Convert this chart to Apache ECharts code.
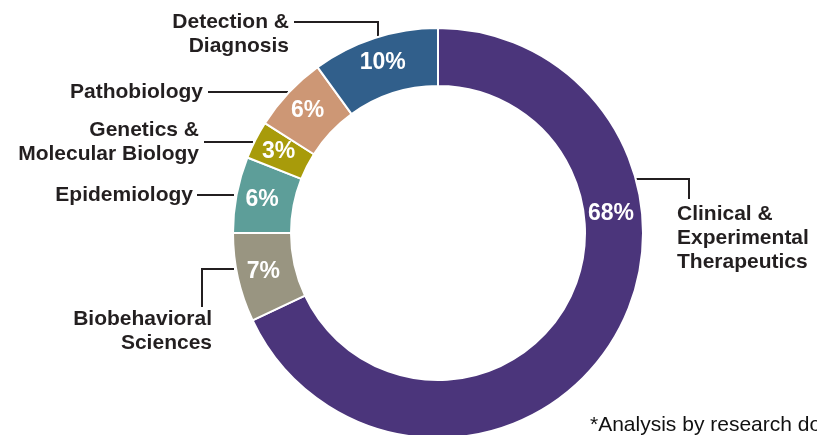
<!DOCTYPE html>
<html>
<head>
<meta charset="utf-8">
<script src="https://cdn.jsdelivr.net/npm/echarts@6/dist/echarts.min.js"></script>
<style>
html,body{margin:0;padding:0;background:#fff;}
#chart{width:817px;height:435px;}
</style>
</head>
<body>
<div id="chart"></div>
<script>
// ---- data ----
const categories = ["Clinical &\nExperimental\nTherapeutics", "Biobehavioral\nSciences", "Epidemiology", "Genetics &\nMolecular Biology", "Pathobiology", "Detection &\nDiagnosis"];
const values = [68, 7, 6, 3, 6, 10];
const footnote = "*Analysis by research dollars";

// ---- styles ----
const colors = ["#4B357B", "#999581", "#5D9E99", "#A89B0A", "#CD9775", "#315F8B"];
const CX = 438, CY = 233;
// outside label placement: text anchor + leader line path
const outsideLayout = [
  {x: 677, y: 238, align: "left", line: [[636, 179], [689, 179], [689, 199]]},
  {x: 212, y: 331, align: "right", line: [[234, 269], [202, 269], [202, 307]]},
  {x: 193, y: 195, align: "right", line: [[234, 195], [197, 195]]},
  {x: 199, y: 142, align: "right", line: [[253, 142], [204, 142]]},
  {x: 203, y: 92, align: "right", line: [[288, 92], [208, 92]]},
  {x: 289, y: 34, align: "right", line: [[378, 36], [378, 22], [294, 22]]}
];
const insideOverride = {0: {x: 611, y: 214}};

const chart = echarts.init(document.getElementById("chart"), null, {renderer: "canvas"});
const dataMain = categories.map((c, i) => ({name: c, value: values[i], itemStyle: {color: colors[i]}}));
const dataOuter = categories.map((c, i) => ({name: c, value: values[i]}));

chart.setOption({
  animation: false,
  title: {
    text: footnote,
    left: 590, top: 415,
    padding: 0,
    textStyle: {fontFamily: "Liberation Sans, Arial, sans-serif", fontWeight: "normal", fontSize: 21, color: "#111"}
  },
  series: [
    {
      type: "pie",
      center: [CX, CY],
      radius: [147, 205],
      startAngle: 90,
      clockwise: true,
      silent: true,
      itemStyle: {borderColor: "#fff", borderWidth: 2},
      label: {
        show: true,
        position: "inside",
        formatter: "{c}%",
        color: "#fff",
        fontFamily: "Liberation Sans, Arial, sans-serif",
        fontWeight: "bold",
        fontSize: 23
      },
      labelLine: {show: false},
      labelLayout: function (p) {
        const o = insideOverride[p.dataIndex];
        return o ? {x: o.x, y: o.y, align: "center", verticalAlign: "middle"} : {};
      },
      data: dataMain
    },
    {
      type: "pie",
      center: [CX, CY],
      radius: [147, 205],
      startAngle: 90,
      clockwise: true,
      silent: true,
      itemStyle: {color: "rgba(0,0,0,0)", borderWidth: 0},
      label: {
        show: true,
        position: "outside",
        formatter: "{b}",
        color: "#231F20",
        fontFamily: "Liberation Sans, Arial, sans-serif",
        fontWeight: "bold",
        fontSize: 21,
        lineHeight: 24
      },
      labelLine: {show: true, lineStyle: {color: "#231F20", width: 2}},
      labelLayout: function (p) {
        const o = outsideLayout[p.dataIndex];
        return {x: o.x, y: o.y, align: o.align, verticalAlign: "middle", labelLinePoints: o.line};
      },
      data: dataOuter
    }
  ]
});
</script>
</body>
</html>
